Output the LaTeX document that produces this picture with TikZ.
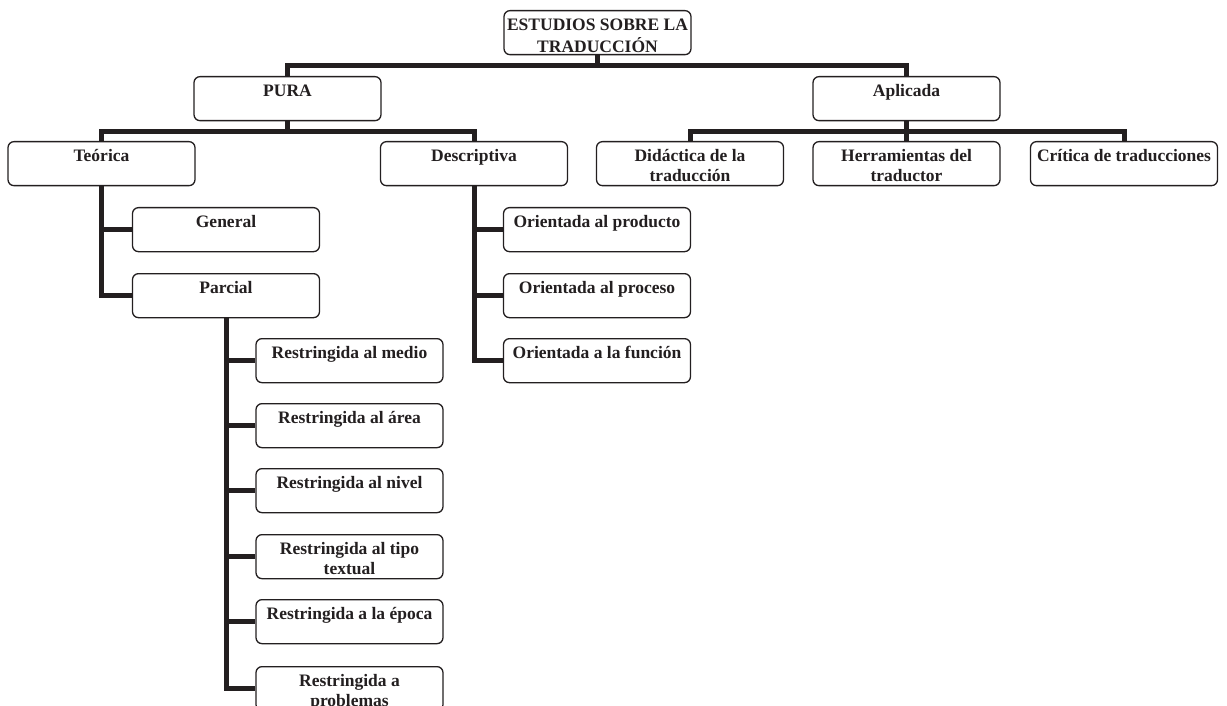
\documentclass[tikz,border=0pt]{standalone}
\usepackage{fontspec}
\setmainfont{Liberation Serif}
\usetikzlibrary{backgrounds}
\definecolor{ink}{RGB}{35,31,32}
\tikzset{
  boxshape/.style={draw=ink, line width=1.3pt, rounded corners=6pt, fill=white,
    minimum width=187pt, minimum height=44pt, inner sep=0pt, anchor=north},
  boxtext/.style={anchor=north, align=center, inner sep=0pt, text=ink,
    font=\fontsize{17.5}{20}\selectfont\bfseries},
  conn/.style={line width=5pt, draw=ink, line join=miter},
}
\newcommand{\bx}[4]{%
  \node[boxshape] (#1) at (#2,#3) {};
  \node[boxtext] (#1-t) at ([yshift=-6pt]#1.north) {\strut #4};
}
\begin{document}
\begin{tikzpicture}[x=1pt,y=-1pt]
\useasboundingbox (0,0) rectangle (1227,706);
\bx{root}{597.5}{10}{ESTUDIOS SOBRE LA\\TRADUCCIÓN}
\bx{pura}{287.5}{76}{PURA}
\bx{apl}{906.5}{76}{Aplicada}
\bx{teo}{101.5}{141}{Teórica}
\bx{desc}{474}{141}{Descriptiva}
\bx{dida}{690}{141}{Didáctica de la\\traducción}
\bx{herr}{906.5}{141}{Herramientas del\\traductor}
\bx{crit}{1124}{141}{Crítica de traducciones}
\bx{gen}{226}{207}{General}
\bx{par}{226}{273}{Parcial}
\bx{oa}{597}{207}{Orientada al producto}
\bx{ob}{597}{273}{Orientada al proceso}
\bx{oc}{597}{338}{Orientada a la función}
\bx{ra}{349.5}{338}{Restringida al medio}
\bx{rb}{349.5}{403}{Restringida al área}
\bx{rc}{349.5}{468}{Restringida al nivel}
\bx{rd}{349.5}{534}{Restringida al tipo\\textual}
\bx{re}{349.5}{599}{Restringida a la época}
\bx{rf}{349.5}{666}{Restringida a\\problemas}
\begin{pgfonlayer}{background}
\draw[conn] (root.south) -- ++(0,10) coordinate (j0);
\draw[conn] (pura.north) |- (j0) -| (apl.north);
\draw[conn] (pura.south) -- ++(0,10) coordinate (j1);
\draw[conn] (teo.north) |- (j1) -| (desc.north);
\draw[conn] (apl.south) -- ++(0,10) coordinate (j2);
\draw[conn] (dida.north) |- (j2) -| (crit.north);
\draw[conn] (j2) -- (herr.north);
\draw[conn] (teo.south) |- (gen.west);
\draw[conn] (teo.south) |- (par.west);
\draw[conn] (desc.south) |- (oa.west);
\draw[conn] (desc.south) |- (ob.west);
\draw[conn] (desc.south) |- (oc.west);
\foreach \n in {ra,rb,rc,rd,re,rf}{\draw[conn] (par.south) |- (\n.west);}
\end{pgfonlayer}
\end{tikzpicture}
\end{document}
